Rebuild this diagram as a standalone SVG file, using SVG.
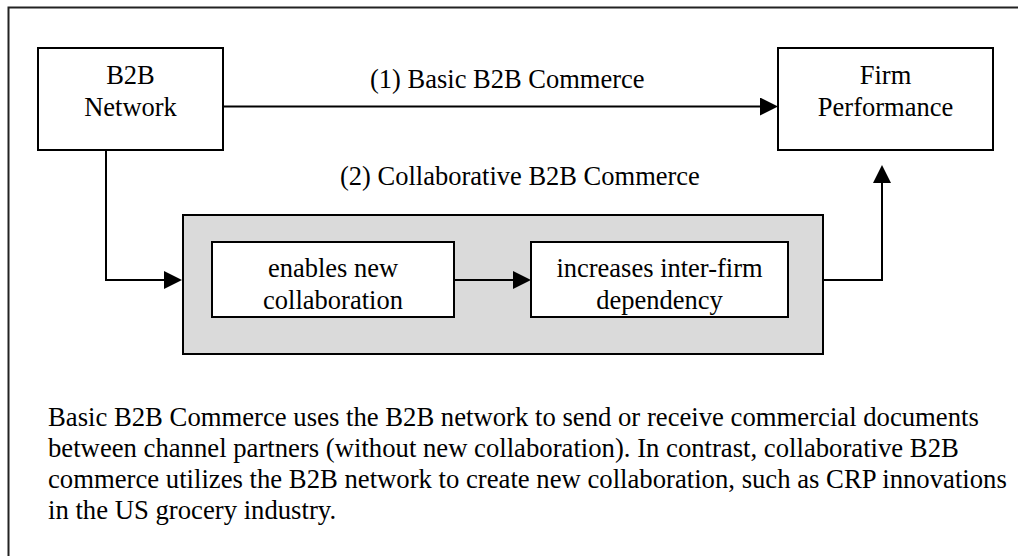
<svg xmlns="http://www.w3.org/2000/svg" width="1018" height="556" viewBox="0 0 1018 556">
<style>
  .t { font-family: 'Liberation Serif', 'Times New Roman', Tinos, 'DejaVu Serif', serif; font-size: 26.5px; fill: #000; }
  .p { font-size: 26.7px; }
  .c { text-anchor: middle; }
  .box { fill: #fff; stroke: #000; stroke-width: 2; }
  .group { fill: #dadada; stroke: #000; stroke-width: 2; }
  .conn { fill: none; stroke: #000; stroke-width: 2; marker-end: url(#arrow); }
  .frame { fill: none; stroke: #222; stroke-width: 2; }
</style>
<defs>
  <marker id="arrow" viewBox="0 0 18 18" refX="10" refY="9" markerWidth="18" markerHeight="18" markerUnits="userSpaceOnUse" orient="auto">
    <path d="M0,0 L18,9 L0,18 Z" fill="#000"/>
  </marker>
</defs>
<rect width="1018" height="556" fill="#fff"/>
<path class="frame" d="M8.5,556 V7.5 H1018"/>

<g id="group-collab">
  <rect class="group" x="183" y="215" width="640" height="139"/>
</g>

<g id="node-b2b-network" class="t">
  <rect class="box" x="38" y="48" width="185" height="102"/>
  <text class="c" x="130.5" y="84">B2B</text>
  <text class="c" x="130.5" y="116">Network</text>
</g>

<g id="node-firm-performance" class="t">
  <rect class="box" x="778" y="48" width="215" height="102"/>
  <text class="c" x="885.5" y="84">Firm</text>
  <text class="c" x="885.5" y="116">Performance</text>
</g>

<g id="node-enables" class="t">
  <rect class="box" x="212" y="242" width="242" height="75"/>
  <text class="c" x="333" y="277">enables new</text>
  <text class="c" x="333" y="309">collaboration</text>
</g>

<g id="node-increases" class="t">
  <rect class="box" x="531" y="242" width="257" height="75"/>
  <text class="c" x="659.5" y="277">increases inter-firm</text>
  <text class="c" x="659.5" y="309">dependency</text>
</g>

<g id="connectors">
  <path class="conn" d="M223,106.5 H770"/>
  <path class="conn" d="M106,150 V280 H174"/>
  <path class="conn" d="M454,280 H523"/>
  <path class="conn" d="M823,280 H882 V173"/>
</g>

<g id="labels" class="t">
  <text x="370" y="88">(1) Basic B2B Commerce</text>
  <text x="340" y="185">(2) Collaborative B2B Commerce</text>
</g>

<g id="caption" class="t p">
  <text x="48" y="426">Basic B2B Commerce uses the B2B network to send or receive commercial documents</text>
  <text x="48" y="457">between channel partners (without new collaboration). In contrast, collaborative B2B</text>
  <text x="48" y="488">commerce utilizes the B2B network to create new collaboration, such as CRP innovations</text>
  <text x="48" y="519">in the US grocery industry.</text>
</g>
</svg>
